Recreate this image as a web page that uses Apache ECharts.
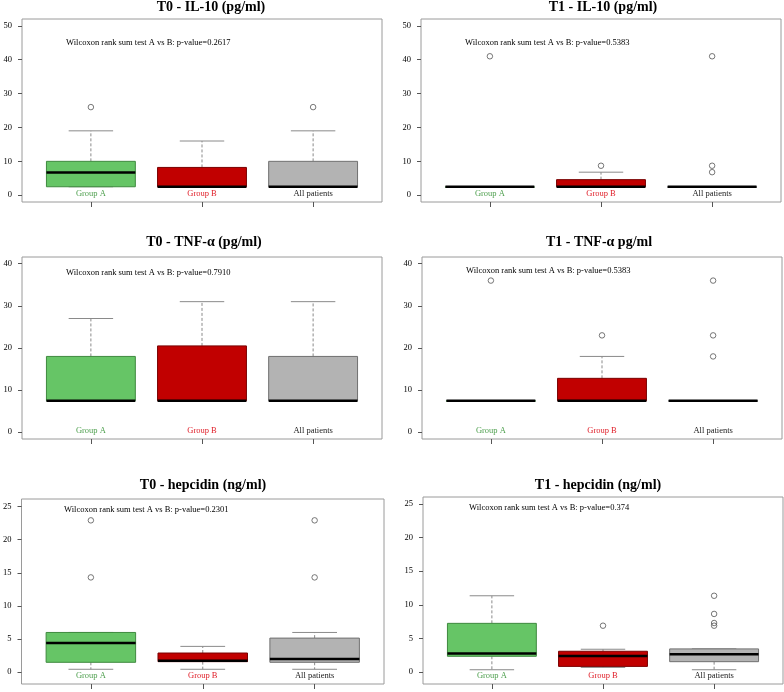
<!DOCTYPE html>
<html>
<head>
<meta charset="utf-8">
<script src="https://cdn.jsdelivr.net/npm/echarts@6/dist/echarts.min.js"></script>
<style>html,body{margin:0;padding:0;background:#fff}#c{width:784px;height:692px}</style>
</head>
<body>
<div id="c"></div>
<script>
// ---------- data ----------
const groups = ['Group A', 'Group B', 'All patients'];
const panelTitles = ['T0 - IL-10 (pg/ml)', 'T1 - IL-10 (pg/ml)', 'T0 - TNF-\u03b1 (pg/ml)', 'T1 - TNF-\u03b1 pg/ml', 'T0 - hepcidin (ng/ml)', 'T1 - hepcidin (ng/ml)'];
const pValues = ['0.2617', '0.5383', '0.7910', '0.5383', '0.2301', '0.374'];
const yTicksIL10 = [0, 10, 20, 30, 40, 50];
const yTicksTNF = [0, 10, 20, 30, 40];
const yTicksHep = [0, 5, 10, 15, 20, 25];
// box stats per group: [lower whisker, Q1, median, Q3, upper whisker]
const t0IL10 = [[2.5, 2.5, 6.7, 10, 19], [2.5, 2.5, 2.5, 8.2, 16], [2.5, 2.5, 2.5, 10, 19]];
const t0IL10Out = [[26], [], [26]];
const t1IL10 = [[2.5, 2.5, 2.5, 2.5, 2.5], [2.5, 2.5, 2.5, 4.6, 6.8], [2.5, 2.5, 2.5, 2.5, 2.5]];
const t1IL10Out = [[41], [8.7], [41, 8.7, 6.8]];
const t0TNF = [[7.5, 7.5, 7.5, 18, 27], [7.5, 7.5, 7.5, 20.5, 31], [7.5, 7.5, 7.5, 18, 31]];
const t0TNFOut = [[], [], []];
const t1TNF = [[7.5, 7.5, 7.5, 7.5, 7.5], [7.5, 7.5, 7.5, 12.8, 18], [7.5, 7.5, 7.5, 7.5, 7.5]];
const t1TNFOut = [[36], [23], [36, 23, 18]];
const t0Hep = [[0.45, 1.5, 4.4, 6.0, 6.0], [0.45, 1.6, 1.75, 2.9, 3.9], [0.45, 1.5, 2.0, 5.15, 6.0]];
const t0HepOut = [[22.9, 14.3], [], [22.9, 14.3]];
const t1Hep = [[0.35, 2.35, 2.75, 7.25, 11.35], [0.7, 0.85, 2.4, 3.1, 3.4], [0.35, 1.55, 2.65, 3.45, 3.45]];
const t1HepOut = [[], [6.9], [11.35, 8.65, 7.3, 6.9]];

// ---------- layout / style ----------
const panels = [
  { stats: t0IL10, out: t0IL10Out, ticks: yTicksIL10, ymin: -2, ymax: 52, grid: { left: 22, top: 19, width: 360, height: 183 }, titleX: 211, titleY: 7, noteX: 66, noteY: 43 },
  { stats: t1IL10, out: t1IL10Out, ticks: yTicksIL10, ymin: -2, ymax: 52, grid: { left: 421, top: 19, width: 360, height: 183 }, titleX: 603, titleY: 7, noteX: 465, noteY: 43 },
  { stats: t0TNF, out: t0TNFOut, ticks: yTicksTNF, ymin: -1.6, ymax: 41.6, grid: { left: 22, top: 257, width: 360, height: 182 }, titleX: 204, titleY: 242, noteX: 66, noteY: 273 },
  { stats: t1TNF, out: t1TNFOut, ticks: yTicksTNF, ymin: -1.6, ymax: 41.6, grid: { left: 422, top: 257, width: 360, height: 182 }, titleX: 599, titleY: 242, noteX: 466, noteY: 271 },
  { stats: t0Hep, out: t0HepOut, ticks: yTicksHep, ymin: -1.77, ymax: 26.12, grid: { left: 19, top: 499, width: 365, height: 185 }, titleX: 203, titleY: 485, noteX: 64, noteY: 510 },
  { stats: t1Hep, out: t1HepOut, ticks: yTicksHep, ymin: -1.77, ymax: 26.04, grid: { left: 423, top: 497, width: 360, height: 187 }, titleX: 598, titleY: 485, noteX: 469, noteY: 508 }
];
const fills = ['#66c566', '#c10000', '#b3b3b3'];
const borders = ['#3f8a3f', '#7a0000', '#707070'];
const labelColors = ['#4fa04f', '#e0202a', '#222222'];
const serif = '"Liberation Serif", "DejaVu Serif", serif';

function renderBox(params, api) {
  const x = api.value(0);
  const lo = api.value(1), q1 = api.value(2), med = api.value(3), q3 = api.value(4), hi = api.value(5);
  const gi = params.dataIndex;
  const half = 0.4, cap = 0.2;
  const tl = api.coord([x - half, q3]);
  const br = api.coord([x + half, q1]);
  const pHi = api.coord([x, hi]);
  const pLo = api.coord([x, lo]);
  const pQ3 = api.coord([x, q3]);
  const pQ1 = api.coord([x, q1]);
  const pMed = api.coord([x, med]);
  const cL = api.coord([x - cap, hi])[0];
  const cR = api.coord([x + cap, hi])[0];
  const whiskerStyle = { stroke: '#8a8a8a', lineWidth: 1, lineDash: [3, 2] };
  const capStyle = { stroke: '#8a8a8a', lineWidth: 1 };
  const children = [];
  if (hi > q3) children.push({ type: 'line', shape: { x1: pQ3[0], y1: pQ3[1], x2: pHi[0], y2: pHi[1] }, style: whiskerStyle });
  if (lo < q1) children.push({ type: 'line', shape: { x1: pQ1[0], y1: pQ1[1], x2: pLo[0], y2: pLo[1] }, style: whiskerStyle });
  children.push({ type: 'line', shape: { x1: cL, y1: pHi[1], x2: cR, y2: pHi[1] }, style: capStyle });
  children.push({ type: 'line', shape: { x1: cL, y1: pLo[1], x2: cR, y2: pLo[1] }, style: capStyle });
  children.push({ type: 'rect', shape: { x: tl[0], y: tl[1], width: br[0] - tl[0], height: Math.max(br[1] - tl[1], 0.5) }, style: { fill: fills[gi], stroke: borders[gi], lineWidth: 1 } });
  children.push({ type: 'line', shape: { x1: tl[0], y1: pMed[1], x2: br[0], y2: pMed[1] }, style: { stroke: '#000', lineWidth: 2.5 } });
  return { type: 'group', children: children };
}

const option = { animation: false, backgroundColor: '#fff', title: [], grid: [], xAxis: [], yAxis: [], series: [] };

panels.forEach(function (p, i) {
  option.title.push({ text: panelTitles[i], left: p.titleX, top: p.titleY, textAlign: 'center', textVerticalAlign: 'middle', padding: 0,
    textStyle: { fontFamily: serif, fontWeight: 'bold', fontSize: 14, color: '#000' } });
  option.title.push({ text: 'Wilcoxon rank sum test A vs B: p-value=' + pValues[i], left: p.noteX, top: p.noteY, textVerticalAlign: 'middle', padding: 0,
    textStyle: { fontFamily: serif, fontWeight: 'normal', fontSize: 8.5, color: '#000' } });
  option.grid.push(Object.assign({ show: true, borderColor: '#9a9a9a', borderWidth: 1, backgroundColor: 'transparent', containLabel: false }, p.grid));
  // axis carrying the data and the inside group labels
  option.xAxis.push({
    type: 'value', gridIndex: i, min: 0.38, max: 3.62, position: 'bottom',
    axisLine: { show: false }, splitLine: { show: false }, axisTick: { show: false },
    axisLabel: { show: true, inside: true, margin: 4, customValues: [1, 2, 3], fontFamily: serif, fontSize: 8.5,
      formatter: function (v) { return groups[Math.round(v) - 1]; },
      color: function (v) { return labelColors[Math.round(v) - 1]; } }
  });
  // twin axis for the outward ticks
  option.xAxis.push({
    type: 'value', gridIndex: i, min: 0.38, max: 3.62, position: 'bottom', offset: 0,
    axisLine: { show: false }, splitLine: { show: false }, axisLabel: { show: false },
    axisTick: { show: true, length: 5, inside: false, customValues: [1, 2, 3], lineStyle: { color: '#555' } }
  });
  option.yAxis.push({
    type: 'value', gridIndex: i, min: p.ymin, max: p.ymax,
    axisLine: { show: false }, splitLine: { show: false },
    axisTick: { show: true, length: 4, inside: false, customValues: p.ticks, lineStyle: { color: '#555' } },
    axisLabel: { show: true, margin: 10, customValues: p.ticks, fontFamily: serif, fontSize: 8.5, color: '#000' }
  });
  option.series.push({
    type: 'custom', xAxisIndex: 2 * i, yAxisIndex: i, renderItem: renderBox, clip: false,
    encode: { x: 0, y: [1, 2, 3, 4, 5] },
    data: p.stats.map(function (s, g) { return [g + 1].concat(s); })
  });
  const outs = [];
  p.out.forEach(function (arr, g) { arr.forEach(function (v) { outs.push([g + 1, v]); }); });
  option.series.push({
    type: 'scatter', xAxisIndex: 2 * i, yAxisIndex: i, symbol: 'circle', symbolSize: 5.5,
    itemStyle: { color: 'transparent', borderColor: '#555', borderWidth: 1 },
    data: outs
  });
});

const chart = echarts.init(document.getElementById('c'));
chart.setOption(option);
</script>
</body>
</html>
